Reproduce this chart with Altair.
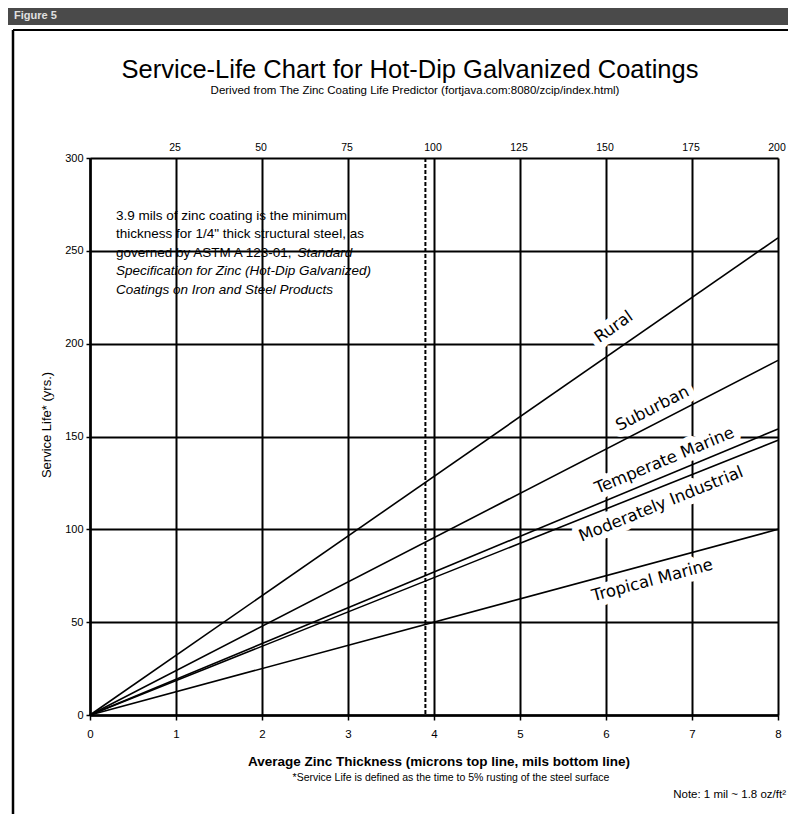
import altair as alt
import pandas as pd

# ---------------- data ----------------
series_names = ["Rural", "Suburban", "Temperate Marine", "Moderately Industrial", "Tropical Marine"]
thickness_mils = [0, 8]
rural_life = [0, 257]
suburban_life = [0, 191]
temperate_life = [0, 154]
moderate_life = [0, 148]
tropical_life = [0, 100]

label_x = [6.09, 6.54, 6.68, 6.64, 6.54]
label_y = [209, 165, 137, 113.5, 72.5]
label_angle = [325, 333, 337.5, 338, 345]

mil_ticks = [0, 1, 2, 3, 4, 5, 6, 7, 8]
life_ticks = [0, 50, 100, 150, 200, 250, 300]
micron_labels = [25, 50, 75, 100, 125, 150, 175, 200]
micron_at_mils = [1, 2, 3, 4, 5, 6, 7, 8]
min_thickness = [3.9]

box_lines = [
    "3.9 mils of zinc coating is the minimum",
    "thickness for 1/4\" thick structural steel, as",
    "governed by ASTM A 123-01, ",
    "Specification for Zinc (Hot-Dip Galvanized)",
    "Coatings on Iron and Steel Products",
]
box_italic_word = "Standard"

# ---------------- tables ----------------
all_life = [rural_life, suburban_life, temperate_life, moderate_life, tropical_life]
rows = []
for name, vals in zip(series_names, all_life):
    for m, v in zip(thickness_mils, vals):
        rows.append({"series": name, "mils": m, "life": v})
lines_df = pd.DataFrame(rows)
labels_df = pd.DataFrame({"series": series_names, "mils": label_x, "life": label_y, "angle": label_angle})
top_df = pd.DataFrame({"mils": micron_at_mils, "micron": [str(v) for v in micron_labels]})
rule_df = pd.DataFrame({"mils": min_thickness})

W, H = 688, 557
FONT = "Liberation Sans, Arial, Helvetica, sans-serif"
NARROW = "Liberation Sans Narrow, Arial Narrow, Liberation Sans, Arial, sans-serif"

AX_X = alt.Axis(values=mil_ticks, title=None, grid=True, gridColor="black", gridWidth=2,
                domainColor="black", domainWidth=2.5, tickColor="black", tickWidth=1.5,
                tickSize=5, labelFontSize=11.5, labelPadding=8, labelFont=NARROW,
                labelColor="black", labelFlush=False, labelOverlap=False, format="d")
AX_Y = alt.Axis(values=life_ticks, title=None, grid=True, gridColor="black", gridWidth=2,
                domainColor="black", domainWidth=2.5, tickColor="black", tickWidth=1.5,
                tickSize=4, labelFontSize=11, labelPadding=3, labelFont=NARROW,
                labelColor="black", labelOverlap=False, format="d")
SX = alt.Scale(domain=[0, 8], nice=False, zero=True)
SY = alt.Scale(domain=[0, 300], nice=False, zero=True)


def xe(field):
    return alt.X(field, type="quantitative", scale=SX, axis=AX_X)


def ye(field):
    return alt.Y(field, type="quantitative", scale=SY, axis=AX_Y)


one = pd.DataFrame({"t": [""]})


def txt(text, x, y, size, align="center", weight="normal", style="normal", color="black",
        angle=0, font=FONT):
    kw = dict(align=align, baseline="alphabetic", fontSize=size, fontWeight=weight,
              fontStyle=style, color=color, font=font)
    if angle:
        kw["angle"] = angle
    return alt.Chart(pd.DataFrame({"t": [text]})).mark_text(**kw).encode(
        x=alt.value(x), y=alt.value(y), text="t:N")


# ---------------- decorations (page frame) ----------------
header = alt.Chart(one).mark_rect(color="#4a4a4a").encode(
    x=alt.value(-90), x2=alt.value(710), y=alt.value(-160), y2=alt.value(-133))
frame_top = alt.Chart(one).mark_rule(color="black", strokeWidth=2).encode(
    x=alt.value(-77), x2=alt.value(710), y=alt.value(-128))
frame_left = alt.Chart(one).mark_rule(color="black", strokeWidth=2.5).encode(
    x=alt.value(-77), y=alt.value(-128), y2=alt.value(670))
fig_label = txt("Figure 5", -76, -139, 11, align="left", weight="bold", color="#e0e0e0")

title = txt("Service-Life Chart for Hot-Dip Galvanized Coatings", 320, -80, 25.5)
subtitle = txt("Derived from The Zinc Coating Life Predictor (fortjava.com:8080/zcip/index.html)",
               325, -64, 11.5)

# ---------------- data layers ----------------
lines = alt.Chart(lines_df).mark_line(color="black", strokeWidth=1.6).encode(
    x=xe("mils"), y=ye("life"), detail="series:N")

dashed = alt.Chart(rule_df).mark_rule(color="black", strokeWidth=2, strokeDash=[4, 2]).encode(
    x=xe("mils"))

halo = alt.Chart(labels_df).mark_text(fontSize=16.5, font="DejaVu Sans", color="white",
                                      stroke="white", strokeWidth=13, strokeJoin="round").encode(
    x=xe("mils"), y=ye("life"), text="series:N", angle=alt.Angle("angle:Q", scale=None))
labels = alt.Chart(labels_df).mark_text(fontSize=16.5, font="DejaVu Sans", color="black").encode(
    x=xe("mils"), y=ye("life"), text="series:N", angle=alt.Angle("angle:Q", scale=None))

top_labels = alt.Chart(top_df).mark_text(fontSize=10.5, font=NARROW, color="black",
                                         baseline="alphabetic", dx=-1).encode(
    x=xe("mils"), y=alt.value(-7), text="micron:N")

# ---------------- text box ----------------
bx = 26
base = [61.5, 80, 98.5, 117, 135.5]
box = [
    txt(box_lines[0], bx, base[0], 13.5, align="left"),
    txt(box_lines[1], bx, base[1], 13.5, align="left"),
    txt(box_lines[2], bx, base[2], 13.5, align="left"),
    txt(box_italic_word, bx + 181.5, base[2], 13.5, align="left", style="italic"),
    txt(box_lines[3], bx, base[3], 13.5, align="left", style="italic"),
    txt(box_lines[4], bx, base[4], 13.5, align="left", style="italic"),
]

# ---------------- axis titles and notes ----------------
xtitle = txt("Average Zinc Thickness (microns top line, mils bottom line)", 349, 608, 13.5,
             weight="bold")
footnote = txt("*Service Life is defined as the time to 5% rusting of the steel surface",
               361, 623, 10.5)
note = txt("Note: 1 mil ~ 1.8 oz/ft\u00b2", 696, 640, 11.5, align="right")
ytitle = txt("Service Life* (yrs.)", -39, 267, 13, angle=270)

chart = alt.layer(
    header, frame_top, frame_left, fig_label, title, subtitle,
    halo, lines, dashed, labels, top_labels, *box, xtitle, footnote, note, ytitle,
).properties(
    width=W, height=H,
    padding={"left": 82, "top": 150, "right": 10, "bottom": 99},
    autosize=alt.AutoSizeParams(type="none"),
).configure_view(stroke="black", strokeWidth=2.5).configure(background="white")

chart.save("out.html", embed_options={"renderer": "svg", "actions": False})
